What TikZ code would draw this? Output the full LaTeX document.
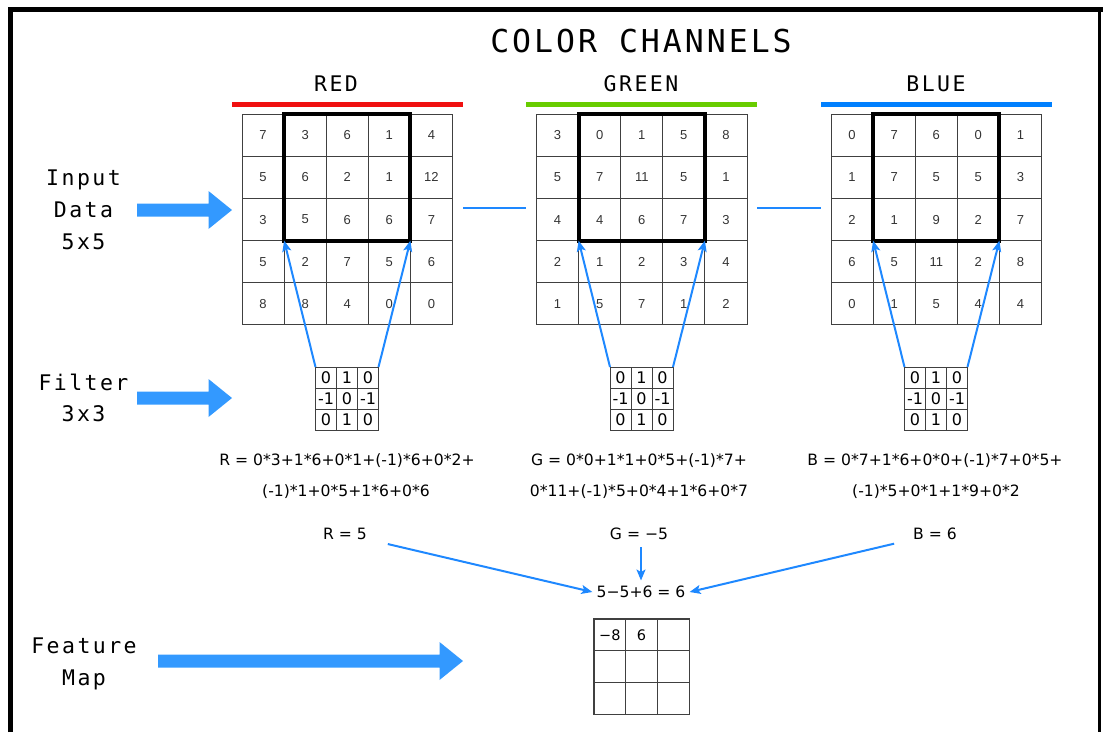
\documentclass[tikz,border=0pt]{standalone}
\usepackage{fontspec}
\setmainfont{DejaVu Sans}
\newfontfamily\labelfont{DejaVu Sans Mono}[LetterSpace=11.4]
\newfontfamily\titlefont{DejaVu Sans Mono}[LetterSpace=9.5]
\newfontfamily\cellfont{Liberation Sans}
\usetikzlibrary{arrows.meta,fit}

\definecolor{chred}{RGB}{240,16,16}
\definecolor{chgreen}{RGB}{104,204,0}
\definecolor{chblue}{RGB}{0,128,255}
\definecolor{linkblue}{RGB}{30,136,255}
\definecolor{blockblue}{RGB}{51,153,255}
\definecolor{gridgray}{RGB}{64,64,64}

\tikzset{
  cell/.style={draw=gridgray, line width=1pt, minimum width=42.1pt, minimum height=42.1pt,
    inner sep=0pt, outer sep=0pt, text=black!80, font=\cellfont\fontsize{13}{13}\selectfont},
  fcell/.style={draw=gridgray, line width=1pt, minimum width=21pt, minimum height=21pt,
    inner sep=0pt, outer sep=0pt, font=\fontsize{16}{16}\selectfont},
  mcell/.style={draw=gridgray, line width=1.2pt, minimum width=31.7pt, minimum height=31.7pt,
    inner sep=0pt, outer sep=0pt, font=\fontsize{14.5}{14.5}\selectfont},
  window/.style={draw=black, line width=4pt, inner sep=0pt, outer sep=0pt},
  bar/.style={line width=5pt},
  link/.style={draw=linkblue, line width=2pt, -{Stealth[length=11pt,width=9pt,inset=2.5pt]}},
  plainlink/.style={draw=linkblue, line width=1.8pt},
  lbl/.style={anchor=base, inner sep=0pt, font=\labelfont\fontsize{21.5}{21.5}\selectfont},
  formula/.style={anchor=base, inner sep=0pt, font=\fontsize{15.6}{15.6}\selectfont},
  pics/blockarrow/.style={code={
    \fill[blockblue] (0,-6.5) -- (#1-23.5,-6.5) -- (#1-23.5,-19) -- (#1,0)
      -- (#1-23.5,19) -- (#1-23.5,6.5) -- (0,6.5) -- cycle;}}
}

% 5x5 input channel: name prefix, left x, top y, rows
\newcommand\chgrid[4]{%
  \foreach \rowvals [count=\i] in {#4} {
    \foreach \v [count=\j] in \rowvals {
      \node[cell] (#1-\i-\j) at ({#2+42.1*(\j-0.5)}, {#3+42.1*(\i-0.5)}) {\v};
    }
  }
}
% 3x3 filter: name prefix, left x, top y
\newcommand\filtergrid[3]{%
  \foreach \rowvals [count=\i] in {{0,1,0},{-1,0,-1},{0,1,0}} {
    \foreach \v [count=\j] in \rowvals {
      \node[fcell] (#1-\i-\j) at ({#2+21*(\j-0.5)}, {#3+21*(\i-0.5)}) {\v};
    }
  }
}

\begin{document}
\begin{tikzpicture}[x=1pt,y=-1pt]
\useasboundingbox (0,0) rectangle (1103,732);

% frame
\draw[line width=5pt] (10.8,732) -- (10.8,9.8) -- (1103,9.8);
\draw[line width=2.5pt] (1099.5,9.8) -- (1099.5,732);

% title and channel names
\node[anchor=base, inner sep=0pt, font=\titlefont\fontsize{31.5}{31.5}\selectfont] (title) at (641,52) {COLOR CHANNELS};
\node[lbl] (redname) at (336,91) {RED};
\node[lbl] (greenname) at (641,91) {GREEN};
\node[lbl] (bluename) at (936,91) {BLUE};

% colour bars
\coordinate (rbar-w) at (232,104);   \coordinate (rbar-e) at (463,104);
\coordinate (gbar-w) at (526,104);   \coordinate (gbar-e) at (757,104);
\coordinate (bbar-w) at (821,104);   \coordinate (bbar-e) at (1052,104);
\draw[bar, chred] (rbar-w) -- (rbar-e);
\draw[bar, chgreen] (gbar-w) -- (gbar-e);
\draw[bar, chblue] (bbar-w) -- (bbar-e);

% input channels
\chgrid{r}{242}{114.3}{{7,3,6,1,4},{5,6,2,1,12},{3,5,6,6,7},{5,2,7,5,6},{8,8,4,0,0}}
\chgrid{g}{536.5}{114.3}{{3,0,1,5,8},{5,7,11,5,1},{4,4,6,7,3},{2,1,2,3,4},{1,5,7,1,2}}
\chgrid{b}{831}{114.3}{{0,7,6,0,1},{1,7,5,5,3},{2,1,9,2,7},{6,5,11,2,8},{0,1,5,4,4}}

\node[window, fit=(r-1-2)(r-3-4)] (rwin) {};
\node[window, fit=(g-1-2)(g-3-4)] (gwin) {};
\node[window, fit=(b-1-2)(b-3-4)] (bwin) {};

% links between channels
\coordinate (rg-a) at (463,208); \coordinate (rg-b) at (526,208);
\coordinate (gb-a) at (757,208); \coordinate (gb-b) at (821,208);
\draw[plainlink] (rg-a) -- (rg-b);
\draw[plainlink] (gb-a) -- (gb-b);

% filters
\filtergrid{rf}{315.5}{367}
\filtergrid{gf}{610}{367}
\filtergrid{bf}{904.5}{367}

\draw[link] (rf-1-1.north west) -- (rwin.south west);
\draw[link] (rf-1-3.north east) -- (rwin.south east);
\draw[link] (gf-1-1.north west) -- (gwin.south west);
\draw[link] (gf-1-3.north east) -- (gwin.south east);
\draw[link] (bf-1-1.north west) -- (bwin.south west);
\draw[link] (bf-1-3.north east) -- (bwin.south east);

% per-channel sums
\node[formula] (rsum1) at (347,465) {R = 0*3+1*6+0*1+(-1)*6+0*2+};
\node[formula] (rsum2) at (346,496) {(-1)*1+0*5+1*6+0*6};
\node[formula] (gsum1) at (639,465) {G = 0*0+1*1+0*5+(-1)*7+};
\node[formula] (gsum2) at (639,496) {0*11+(-1)*5+0*4+1*6+0*7};
\node[formula] (bsum1) at (935,465) {B = 0*7+1*6+0*0+(-1)*7+0*5+};
\node[formula] (bsum2) at (936,496) {(-1)*5+0*1+1*9+0*2};

\node[formula] (rres) at (345,539.5) {R = 5};
\node[formula] (gres) at (639,539.5) {G = −5};
\node[formula] (bres) at (935,539.5) {B = 6};
\node[formula] (total) at (641,597.5) {5−5+6 = 6};

% partial results flowing into the total
\draw[link, shorten <=44pt] ([yshift=5.5pt]rres.base) -- ([xshift=-4pt,yshift=5.5pt]total.base west);
\draw[link, shorten <=42pt] ([yshift=5.5pt]bres.base) -- ([xshift=4pt,yshift=5.5pt]total.base east);
\draw[link] ([yshift=-7.5pt]gres.base -| total.base) -- ([yshift=17pt]total.base);

% feature map
\foreach \i in {1,2,3} {
  \foreach \j in {1,2,3} {
    \node[mcell] (fm-\i-\j) at ({594+31.7*(\j-0.5)}, {619+31.7*(\i-0.5)}) {};
  }
}
\node[font=\fontsize{14.5}{14.5}\selectfont, inner sep=0pt] (fmv1) at (fm-1-1) {−8};
\node[font=\fontsize{14.5}{14.5}\selectfont, inner sep=0pt] (fmv2) at (fm-1-2) {6};

% row labels
\node[lbl] (lin1) at (83.5,185) {Input};
\node[lbl] (lin2) at (83.5,217) {Data};
\node[lbl] (lin3) at (83.5,249) {5x5};
\node[lbl] (lfi1) at (83.5,390.5) {Filter};
\node[lbl] (lfi2) at (83.5,421.5) {3x3};
\node[lbl] (lfm1) at (84,653) {Feature};
\node[lbl] (lfm2) at (84,685) {Map};

% block arrows
\pic at (137,210) {blockarrow=95};
\pic at (137,398) {blockarrow=95};
\pic at (158,661) {blockarrow=305};
\end{tikzpicture}
\end{document}
